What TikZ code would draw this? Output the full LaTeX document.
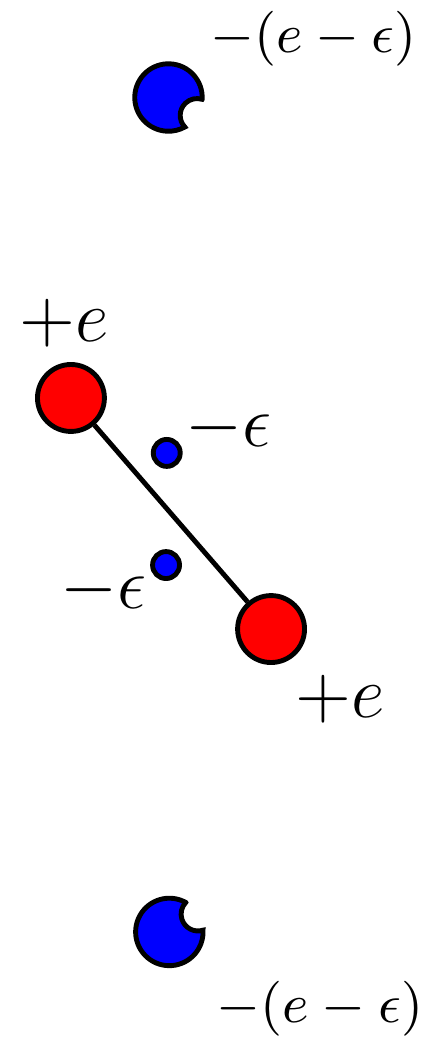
\documentclass[tikz,border=0pt]{standalone}
\usepackage{amsmath,amssymb}
\usepackage{tikz}
\usetikzlibrary{positioning}

\begin{document}
\begin{tikzpicture}[scale=1,
    bigcharge/.style={circle, draw=black, thick, fill=red, inner sep=0pt, minimum size=0.385cm},
    smallcharge/.style={circle, draw=black, thick, fill=blue, inner sep=0pt, minimum size=0.155cm},
    biglabel/.style={inner sep=0pt, font=\large},
    smalllabel/.style={inner sep=0pt, font=\small}]

    \useasboundingbox (0,0) rectangle (2.536,6.016);

    % Dipole
    \node[bigcharge] (plusA) at (0.408,3.727) {};
    \node[bigcharge] (plusB) at (1.559,2.398) {};
    \draw[thick] (plusA) -- (plusB);

    % Small negative charges
    \node[smallcharge] (minusA) at (0.959,3.411) {};
    \node[smallcharge] (minusB) at (0.955,2.766) {};

    % Bitten charges, top and bottom
    \foreach \xc/\yc/\t in {0.969/5.455/-32, 0.974/0.656/32}
        \filldraw[fill=blue, thick] (\xc,\yc) ++(\t+29:0.194)
            arc[start angle=\t+29, end angle=\t+331, radius=0.194]
            arc[start angle=\t+255.5, end angle=\t+104.5, radius=0.097] -- cycle;

    % Labels
    \node[biglabel] (labplusA) at (0.368,4.158) {$+e$};
    \node[biglabel] (labplusB) at (1.955,1.996) {$+e$};
    \node[biglabel] (labminusA) at (1.313,3.552) {$-\epsilon$};
    \node[biglabel] (labminusB) at (0.594,2.622) {$-\epsilon$};
    \node[smalllabel] (labtop) at (1.802,5.795) {$-(e-\epsilon)$};
    \node[smalllabel] (labbot) at (1.840,0.213) {$-(e-\epsilon)$};

\end{tikzpicture}
\end{document}
